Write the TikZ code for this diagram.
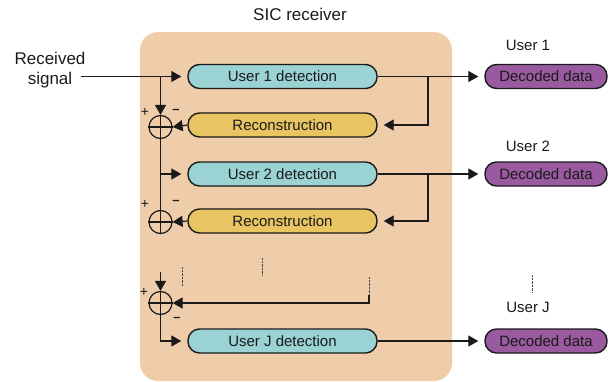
\documentclass[tikz,border=0pt]{standalone}
\usepackage{fontspec}
\setmainfont{Liberation Sans}
\usetikzlibrary{arrows.meta,calc}

\definecolor{peach}{HTML}{EFCDAB}
\definecolor{tealbox}{HTML}{9BD2D4}
\definecolor{goldbox}{HTML}{E8C462}
\definecolor{plumbox}{HTML}{9A5A9F}
\definecolor{ink}{HTML}{1A1A1A}

\tikzset{
  pill/.style={draw=ink, line width=1.4pt, rounded corners=11.5pt,
    minimum width=189pt, minimum height=24pt, inner sep=0pt,
    font=\fontsize{15}{17}\selectfont, text=ink},
  detect/.style={pill, fill=tealbox},
  recon/.style={pill, fill=goldbox},
  outbox/.style={pill, fill=plumbox, minimum width=122pt},
  summer/.style={draw=ink, line width=1.2pt, circle, minimum size=23pt, inner sep=0pt},
  wire/.style={draw=ink, line width=1.2pt},
  flow/.style={wire, -{Triangle[length=10pt,width=11pt]}},
  gapflow/.style={flow, shorten >=6pt},
  dots/.style={draw=ink!80, line width=0.9pt, dash pattern=on 0.7pt off 0.7pt},
  caption/.style={font=\fontsize{15}{17}\selectfont, text=ink},
  sign/.style={font=\fontsize{14}{15}\selectfont, text=ink, inner sep=0pt},
  minus/.style={font=\fontsize{13}{14}\bfseries\selectfont, text=ink, inner sep=0pt}
}

\begin{document}
\begin{tikzpicture}[x=1pt, y=-1pt]
  \useasboundingbox (0,0) rectangle (608,381);

  % receiver enclosure
  \fill[peach, rounded corners=18pt] (140,32) rectangle (452,381);
  \node[font=\fontsize{17}{20}\selectfont, text=ink] (title) at (300,14) {SIC receiver};

  % processing stages
  \node[detect] (u1) at (282.5,76.5) {User 1 detection};
  \node[recon]  (r1) at (282.5,125) {Reconstruction};
  \node[detect] (u2) at (282.5,174) {User 2 detection};
  \node[recon]  (r2) at (282.5,221) {Reconstruction};
  \node[detect] (uJ) at (282.5,341) {User J detection};

  % decoded outputs
  \node[outbox] (d1) at (546,76.5) {Decoded data};
  \node[outbox] (d2) at (546,174) {Decoded data};
  \node[outbox] (dJ) at (546,341) {Decoded data};
  \node[caption] (l1) at (528,45) {User 1};
  \node[caption] (l2) at (528,146) {User 2};
  \node[caption] (lJ) at (528,307) {User J};

  % input label
  \node[font=\fontsize{17}{20}\selectfont, text=ink, align=center, inner sep=0pt]
    (rx) at (50,70) {Received\\signal};

  % subtractors
  \node[summer] (s1) at (160.5,127) {};
  \node[summer] (s2) at (160.5,222) {};
  \node[summer] (s3) at (160.5,303) {};
  \foreach \s in {s1,s2,s3}{
    \draw[wire] (\s.north) -- (\s.south);
    \draw[wire] (\s.west) -- (\s.east);
  }
  \node[sign]  (p1) at (145,112) {+};
  \node[minus] (m1) at (176,111) {–};
  \node[sign]  (p2) at (145,204) {+};
  \node[minus] (m2) at (176,202) {–};
  \node[sign]  (p3) at (144,292) {+};
  \node[minus] (m3) at (177,319) {–};

  % junction points
  \coordinate (in)  at (81,76.5);
  \coordinate (j1)  at (160.5,76.5);
  \coordinate (j2)  at (160.5,174);
  \coordinate (jJ)  at (160.5,272);
  \coordinate (b1)  at (428,76.5);
  \coordinate (b2)  at (428,174);
  \coordinate (fbJ) at (369,295);

  % signal flow
  \draw[gapflow] (in) -- (u1.west);
  \draw[flow] (j1) -- (s1.north);
  \draw[flow] (r1.west) -- (s1.east);
  \draw[wire] (s1.south) -- (s2.north);
  \draw[gapflow] (j2) -- (u2.west);
  \draw[flow] (r2.west) -- (s2.east);
  \draw[flow] (jJ) -- (s3.north);
  \draw[gapflow] (s3.south) |- (uJ.west);

  \draw[gapflow] (u1.east) -- (d1.west);
  \draw[gapflow] (b1) |- (r1.east);
  \draw[gapflow] (u2.east) -- (d2.west);
  \draw[gapflow] (b2) |- (r2.east);
  \draw[gapflow] (uJ.east) -- (dJ.west);
  \draw[flow] (fbJ) |- (s3.east);

  % omitted stages
  \draw[dots] (182,267) -- (182,286);
  \draw[dots] (262,258) -- (262,276);
  \draw[dots] (369,277) -- (fbJ);
  \draw[dots] (532,275) -- (532,293);
\end{tikzpicture}
\end{document}
